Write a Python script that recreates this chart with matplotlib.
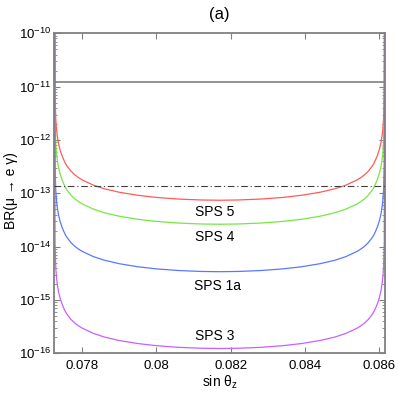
import matplotlib
matplotlib.use("Agg")
import numpy as np
import matplotlib.pyplot as plt
from matplotlib.ticker import FixedLocator, NullFormatter, FixedFormatter

plt.rcParams['font.family'] = ['Liberation Sans', 'DejaVu Sans']
plt.rcParams['mathtext.fontset'] = 'custom'
plt.rcParams['mathtext.rm'] = 'Liberation Sans'
plt.rcParams['mathtext.it'] = 'Liberation Sans:italic'
plt.rcParams['mathtext.sf'] = 'Liberation Sans'

# sin(theta_z) sample positions
sin_theta_z = [0.07726, 0.07727, 0.07729, 0.07731, 0.07733, 0.07736, 0.07740, 0.07745,
               0.07750, 0.07755, 0.07760, 0.07770, 0.07780, 0.07790, 0.07800, 0.07830,
               0.07860, 0.07900, 0.07950, 0.08000, 0.08060, 0.08120, 0.08170,
               0.08221, 0.08281, 0.08341, 0.08391, 0.08441, 0.08481, 0.08511, 0.08541,
               0.08551, 0.08561, 0.08571, 0.08581, 0.08586, 0.08591, 0.08596, 0.08601,
               0.08605, 0.08608, 0.08610, 0.08612, 0.08614, 0.08615]

# log10 BR(mu -> e gamma)
log_br_sps5 = [-9.0, -11.13, -11.61, -11.80, -11.92, -12.05, -12.17, -12.28,
               -12.365, -12.44, -12.495, -12.585, -12.652, -12.704, -12.748, -12.846,
               -12.915, -12.98, -13.037, -13.077, -13.108, -13.125, -13.13,
               -13.125, -13.108, -13.077, -13.037, -12.98, -12.915, -12.846, -12.748,
               -12.704, -12.652, -12.585, -12.495, -12.44, -12.365, -12.28, -12.17,
               -12.05, -11.92, -11.80, -11.61, -11.13, -9.0]

log_br_sps4 = [-9.0, -11.58, -12.06, -12.25, -12.37, -12.50, -12.62, -12.73,
               -12.815, -12.89, -12.945, -13.035, -13.102, -13.154, -13.198, -13.296,
               -13.365, -13.43, -13.487, -13.527, -13.558, -13.575, -13.58,
               -13.575, -13.558, -13.527, -13.487, -13.43, -13.365, -13.296, -13.198,
               -13.154, -13.102, -13.035, -12.945, -12.89, -12.815, -12.73, -12.62,
               -12.50, -12.37, -12.25, -12.06, -11.58, -9.0]

log_br_sps1a = [-9.0, -12.47, -12.95, -13.14, -13.26, -13.39, -13.51, -13.62,
                -13.705, -13.78, -13.835, -13.925, -13.992, -14.044, -14.088, -14.186,
                -14.255, -14.32, -14.377, -14.417, -14.448, -14.465, -14.47,
                -14.465, -14.448, -14.417, -14.377, -14.32, -14.255, -14.186, -14.088,
                -14.044, -13.992, -13.925, -13.835, -13.78, -13.705, -13.62, -13.51,
                -13.39, -13.26, -13.14, -12.95, -12.47, -9.0]

log_br_sps3 = [-9.0, -13.91, -14.39, -14.58, -14.70, -14.83, -14.95, -15.06,
               -15.145, -15.22, -15.275, -15.365, -15.432, -15.484, -15.528, -15.626,
               -15.695, -15.76, -15.817, -15.857, -15.888, -15.905, -15.91,
               -15.905, -15.888, -15.857, -15.817, -15.76, -15.695, -15.626, -15.528,
               -15.484, -15.432, -15.365, -15.275, -15.22, -15.145, -15.06, -14.95,
               -14.83, -14.70, -14.58, -14.39, -13.91, -9.0]

current_limit = 1.2e-11
future_limit = 1.35e-13

labels = ["SPS 5", "SPS 4", "SPS 1a", "SPS 3"]
label_x = [0.08158, 0.08158, 0.08164, 0.08158]
label_y = [4.5e-14, 1.5e-14, 1.83e-15, 2.14e-16]

x_ticks = [0.078, 0.080, 0.082, 0.084, 0.086]
x_tick_labels = ["0.078", "0.08", "0.082", "0.084", "0.086"]
y_ticks = [1e-16, 1e-15, 1e-14, 1e-13, 1e-12, 1e-11, 1e-10]
y_tick_labels = [r"$\mathregular{10^{-16}}$", r"$\mathregular{10^{-15}}$",
                 r"$\mathregular{10^{-14}}$", r"$\mathregular{10^{-13}}$",
                 r"$\mathregular{10^{-12}}$", r"$\mathregular{10^{-11}}$",
                 r"$\mathregular{10^{-10}}$"]

colors = ["#ff5a5a", "#77e644", "#5a78ff", "#c860ff"]

fig = plt.figure(figsize=(3.98, 3.98), dpi=100)
ax = fig.add_axes([0.1364, 0.1123, 0.831, 0.804])

gray = "#808080"
ax.axhline(current_limit, color=gray, lw=1.2, zorder=3)
ax.axhline(future_limit, color="#404040", lw=0.8, ls=(0, (6, 2.5, 1, 2.5)), zorder=3)

for logs, c in zip([log_br_sps5, log_br_sps4, log_br_sps1a, log_br_sps3], colors):
    ax.plot(sin_theta_z, 10.0 ** np.array(logs), color=c, lw=0.9, zorder=2)

for t, x, y in zip(labels, label_x, label_y):
    ax.text(x, y, t, ha="center", va="center", fontsize=10)

ax.set_yscale("log")
ax.set_xlim(0.07725, 0.08616)
ax.set_ylim(1e-16, 1e-10)
ax.xaxis.set_major_locator(FixedLocator(x_ticks))
ax.xaxis.set_major_formatter(FixedFormatter(x_tick_labels))
ax.yaxis.set_major_locator(FixedLocator(y_ticks))
ax.yaxis.set_major_formatter(FixedFormatter(y_tick_labels))
minor = [m * 10.0 ** e for e in range(-16, -10) for m in range(2, 10)]
ax.yaxis.set_minor_locator(FixedLocator(minor))
ax.yaxis.set_minor_formatter(NullFormatter())

for s in ax.spines.values():
    s.set_color(gray)
    s.set_linewidth(1.3)

ax.tick_params(axis="both", which="both", direction="in", top=True, right=True,
               color=gray, labelsize=9.5, labelcolor="black")
ax.tick_params(axis="both", which="major", length=4, width=0.8)
ax.tick_params(axis="y", which="minor", length=2, width=0.6)
ax.tick_params(axis="x", which="major", pad=5)
ax.tick_params(axis="y", which="major", pad=2)

ax.set_xlabel(r"sin θ$_\mathregular{z}$", fontsize=10, labelpad=1)
ax.set_ylabel("BR(μ → e γ)", fontsize=10)
ax.yaxis.set_label_coords(-0.111, 0.51)
ax.set_title("(a)", fontsize=12, pad=10)

fig.savefig("out.png", dpi=100)
